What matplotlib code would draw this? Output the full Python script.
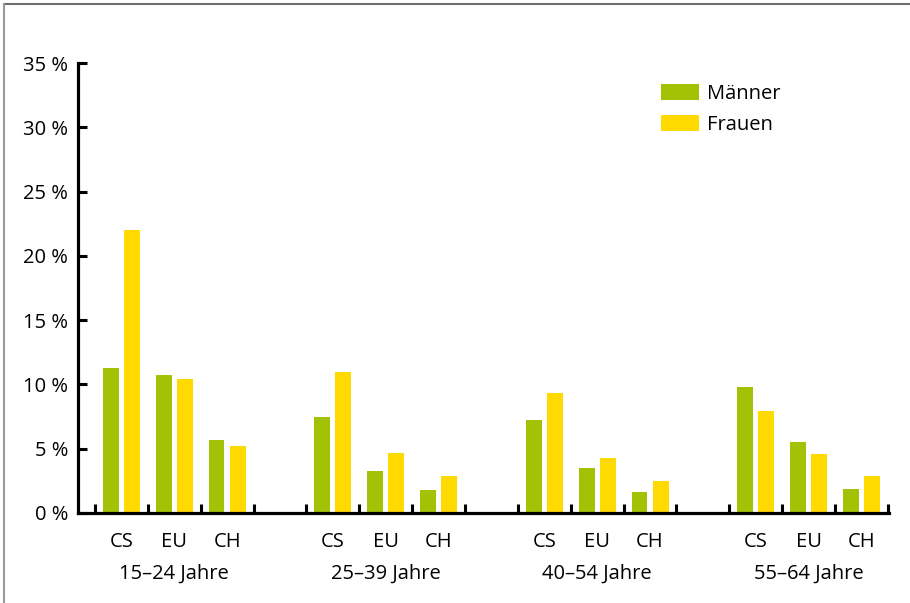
import matplotlib
matplotlib.use("Agg")
import matplotlib.pyplot as plt
from matplotlib.lines import Line2D
import numpy as np

plt.rcParams['font.family'] = ['Open Sans', 'DejaVu Sans']

groups = ["15–24 Jahre", "25–39 Jahre", "40–54 Jahre", "55–64 Jahre"]
regions = ["CS", "EU", "CH"]
maenner = [11.3, 10.7, 5.7, 7.5, 3.3, 1.8, 7.2, 3.5, 1.6, 9.8, 5.5, 1.9]
frauen = [22.0, 10.4, 5.2, 11.0, 4.7, 2.9, 9.3, 4.3, 2.5, 7.9, 4.6, 2.9]
yticks = [0, 5, 10, 15, 20, 25, 30, 35]
legend_labels = ["Männer", "Frauen"]

green = "#A3C205"
yellow = "#FFDA00"
FS = 14.5

W, H = 910, 603
fig = plt.figure(figsize=(W / 100, H / 100), dpi=100)
ax = fig.add_axes([78 / W, 1 - 513 / H, (889 - 78) / W, (513 - 63) / H])

# slot positions: 3 regions per group + 1 empty slot
pos = []
for g in range(len(groups)):
    for r in range(len(regions)):
        pos.append(g * 4 + r)
pos = np.array(pos, dtype=float)

bw = 0.30
off = 0.20
ax.bar(pos - off, maenner, width=bw, color=green, label=legend_labels[0], zorder=2)
ax.bar(pos + off, frauen, width=bw, color=yellow, label=legend_labels[1], zorder=2)

ax.set_xlim(-0.82, 14.52)
ax.set_ylim(0, 35)

for s in ['top', 'right']:
    ax.spines[s].set_visible(False)
for s in ['left', 'bottom']:
    ax.spines[s].set_linewidth(2.3)
    ax.spines[s].set_color('black')
    ax.spines[s].set_capstyle('projecting')

ax.set_yticks(yticks)
ax.set_yticklabels([f"{v} %" for v in yticks])
ax.tick_params(axis='y', direction='in', length=6.5, width=2.2, pad=7, labelsize=FS, colors='black')

edges = np.arange(-0.5, 15.0, 1.0)
ax.set_xticks(edges)
ax.set_xticklabels([])
ax.tick_params(axis='x', which='major', direction='in', length=6.5, width=2.2)
ax.set_xticks(pos, minor=True)
ax.set_xticklabels(regions * len(groups), minor=True)
ax.tick_params(axis='x', which='minor', length=0, pad=14, labelsize=FS)

for g, name in enumerate(groups):
    ax.annotate(name, xy=(g * 4 + 1, 0), xycoords=('data', 'axes fraction'),
                xytext=(0, -44), textcoords='offset points',
                ha='center', va='center', fontsize=FS)

leg = ax.legend(loc='upper left', bbox_to_anchor=(661 / W, 1 - 84 / H),
                bbox_transform=fig.transFigure, frameon=False, fontsize=FS,
                borderpad=0, borderaxespad=0, handlelength=1.9, handleheight=0.8,
                handletextpad=0.38, labelspacing=0.55)

# frame lines of the picture
fig.add_artist(Line2D([4 / W, 1], [1 - 4 / H, 1 - 4 / H], transform=fig.transFigure,
                      color='#6e6e6e', linewidth=1.5))
fig.add_artist(Line2D([4 / W, 4 / W], [0, 1 - 4 / H], transform=fig.transFigure,
                      color='#9a9a9a', linewidth=1.5))

fig.savefig("out.png", dpi=100)
